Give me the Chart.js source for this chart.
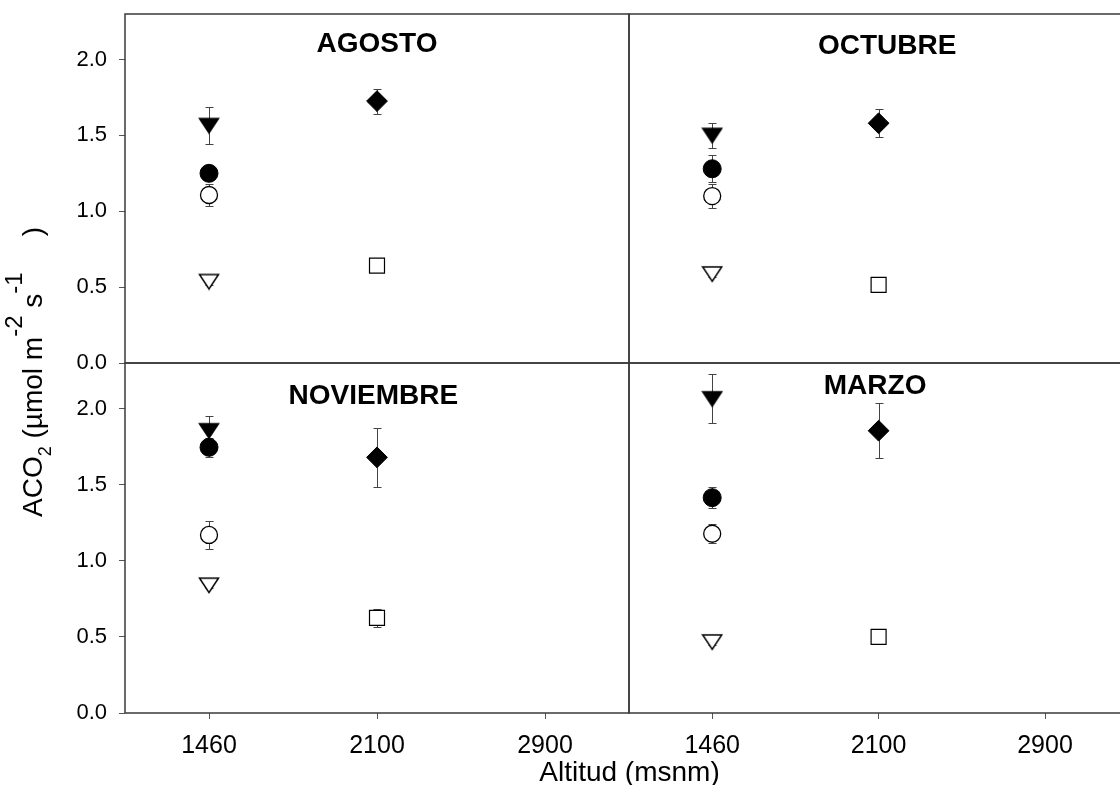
<!DOCTYPE html>
<html>
<head>
<meta charset="utf-8">
<script src="https://cdn.jsdelivr.net/npm/chart.js@4/dist/chart.umd.min.js"></script>
<style>
  html, body { margin: 0; padding: 0; width: 1120px; height: 785px; overflow: hidden; background: #fff; }
  #wrap { position: relative; width: 1120px; height: 785px; overflow: hidden; }
  #wrap canvas { position: absolute; left: 0; top: 0; }
  .axt { position: absolute; font-family: "Liberation Sans", Arial, sans-serif; font-size: 28px; line-height: 28px; white-space: nowrap; color: #000; }
  #ytitle { left: 33px; top: 371.7px; transform: translate(-50%, -50%) rotate(-90deg); }
  #xtitle { left: 629.5px; top: 758px; transform: translateX(-50%); }
  #ytitle sub { font-size: 18px; line-height: 0; vertical-align: baseline; position: relative; top: 9px; }
  #ytitle sup { font-size: 24px; line-height: 0; vertical-align: baseline; position: relative; top: -20px; }
</style>
</head>
<body>
<div id="wrap">
  <canvas id="p0" width="1140" height="785" style="width:1140px;height:785px"></canvas>
  <canvas id="p1" width="1140" height="785" style="width:1140px;height:785px"></canvas>
  <canvas id="p2" width="1140" height="785" style="width:1140px;height:785px"></canvas>
  <canvas id="p3" width="1140" height="785" style="width:1140px;height:785px"></canvas>
  <div id="ytitle" class="axt">ACO<sub>2</sub> (µmol m<sup>-2</sup> s<sup>-1</sup><span style="margin-left:36px">)</span></div>
  <div id="xtitle" class="axt">Altitud (msnm)</div>
</div>
<script>
// ---------------- DATA ----------------
const panelTitles = ['AGOSTO', 'OCTUBRE', 'NOVIEMBRE', 'MARZO'];
const altitudes = ['1460', '2100', '2900'];
const yTickValues = [0, 0.5, 1.0, 1.5, 2.0];
const yMin = 0;
const yMax = 2.3;

// one value per panel: AGOSTO, OCTUBRE, NOVIEMBRE, MARZO
const solidTriangle   = [1.565, 1.50, 1.855, 2.065];
const solidTriangleSE = [0.125, 0.08, 0.095, 0.16];
const solidCircle     = [1.25, 1.28, 1.746, 1.415];
const solidCircleSE   = [0.03, 0.09, 0.062, 0.068];
const openCircle      = [1.107, 1.10, 1.17, 1.178];
const openCircleSE    = [0.07, 0.08, 0.093, 0.062];
const openTriangle    = [0.537, 0.587, 0.84, 0.467];
const openTriangleSE  = [0.02, 0.02, 0.02, 0.02];
const solidDiamond    = [1.726, 1.58, 1.68, 1.855];
const solidDiamondSE  = [0.082, 0.093, 0.195, 0.18];
const openSquare      = [0.642, 0.515, 0.625, 0.50];
const openSquareSE    = [0.02, 0.02, 0.06, 0.02];

// ---------------- STYLE ----------------
Chart.defaults.font.family = '"Liberation Sans", Arial, sans-serif';
Chart.defaults.color = '#000';

function triCanvas(fill) {
  const c = document.createElement('canvas');
  c.width = 22; c.height = 18;
  const g = c.getContext('2d');
  g.beginPath();
  g.moveTo(1.5, 2); g.lineTo(20.5, 2); g.lineTo(11, 16.5);
  g.closePath();
  g.fillStyle = fill; g.fill();
  g.lineWidth = 1.5; g.lineJoin = 'miter'; g.strokeStyle = '#000'; g.stroke();
  return c;
}

const series = [
  { values: solidTriangle, se: solidTriangleSE, alt: altitudes[0],
    style: { pointStyle: triCanvas('#000'), pointRadius: 10 } },
  { values: solidCircle, se: solidCircleSE, alt: altitudes[0],
    style: { pointStyle: 'circle', pointRadius: 9, pointBackgroundColor: '#000', pointBorderColor: '#000', pointBorderWidth: 1 } },
  { values: openCircle, se: openCircleSE, alt: altitudes[0],
    style: { pointStyle: 'circle', pointRadius: 8.5, pointBackgroundColor: '#fff', pointBorderColor: '#000', pointBorderWidth: 1.3 } },
  { values: openTriangle, se: openTriangleSE, alt: altitudes[0],
    style: { pointStyle: triCanvas('#fff'), pointRadius: 10 } },
  { values: solidDiamond, se: solidDiamondSE, alt: altitudes[1],
    style: { pointStyle: 'rectRot', pointRadius: 10.4, pointBackgroundColor: '#000', pointBorderColor: '#000', pointBorderWidth: 1 } },
  { values: openSquare, se: openSquareSE, alt: altitudes[1],
    style: { pointStyle: 'rect', pointRadius: 10.6, pointBackgroundColor: '#fff', pointBorderColor: '#000', pointBorderWidth: 1.2 } }
];

// panel title placement (offset of text centre from panel centre, baseline below panel top)
const titlePlacement = [[0, 38.3], [8.5, 40.3], [-3.7, 41.3], [-3.5, 31.3]];

const CW = 1140;
const splitX = 629, rightX = 1133, topY = 14, splitY = 363, bottomY = 713, CH = 785;

const errorBars = {
  id: 'errorBars',
  beforeDatasetsDraw(chart) {
    const ctx = chart.ctx, ys = chart.scales.y;
    ctx.save();
    ctx.strokeStyle = '#444';
    ctx.lineWidth = 1;
    chart.data.datasets.forEach((ds, di) => {
      const meta = chart.getDatasetMeta(di);
      meta.data.forEach((pt, j) => {
        const v = ds.data[j].y, e = ds.errors[j];
        if (!e) return;
        const x = Math.round(pt.x) + 0.5;
        const y1 = Math.round(ys.getPixelForValue(v + e)) + 0.5;
        const y2 = Math.round(ys.getPixelForValue(v - e)) + 0.5;
        ctx.beginPath();
        ctx.moveTo(x, y1); ctx.lineTo(x, y2);
        ctx.moveTo(x - 4, y1); ctx.lineTo(x + 4, y1);
        ctx.moveTo(x - 4, y2); ctx.lineTo(x + 4, y2);
        ctx.stroke();
      });
    });
    ctx.restore();
  }
};

const panelFrame = {
  id: 'panelFrame',
  beforeDatasetsDraw(chart) {
    const a = chart.chartArea, ctx = chart.ctx;
    ctx.save();
    ctx.strokeStyle = '#3a3a3a';
    ctx.lineWidth = 1.5;
    ctx.strokeRect(a.left, a.top, a.right - a.left, a.bottom - a.top);
    ctx.restore();
  }
};

const panelTitle = {
  id: 'panelTitle',
  afterDraw(chart, args, opts) {
    const a = chart.chartArea, ctx = chart.ctx;
    ctx.save();
    ctx.font = 'bold 28px "Liberation Sans", Arial, sans-serif';
    ctx.fillStyle = '#000';
    ctx.textAlign = 'center';
    ctx.textBaseline = 'alphabetic';
    ctx.fillText(opts.text, (a.left + a.right) / 2 + opts.dx, a.top + opts.dy);
    ctx.restore();
  }
};

for (let p = 0; p < 4; p++) {
  const isLeft = p % 2 === 0;
  const isBottom = p >= 2;
  const datasets = series.map(s => Object.assign({
    data: [{ x: s.alt, y: s.values[p] }],
    errors: [s.se[p]],
    showLine: false,
    clip: false
  }, s.style));

  new Chart(document.getElementById('p' + p), {
    type: 'line',
    data: { labels: altitudes, datasets },
    plugins: [panelFrame, errorBars, panelTitle],
    options: {
      responsive: false,
      animation: false,
      events: [],
      layout: {
        padding: {
          left: isLeft ? 0 : splitX,
          right: isLeft ? CW - splitX : CW - rightX,
          top: isBottom ? splitY : topY,
          bottom: isBottom ? 0 : CH - splitY
        }
      },
      plugins: {
        legend: { display: false },
        tooltip: { enabled: false },
        panelTitle: { text: panelTitles[p], dx: titlePlacement[p][0], dy: titlePlacement[p][1] }
      },
      scales: {
        x: {
          type: 'category',
          labels: altitudes,
          offset: true,
          display: isBottom,
          grid: { display: true, drawOnChartArea: false, drawTicks: true, tickLength: 6, color: '#555', offset: false },
          border: { display: false },
          ticks: { font: { size: 25 }, padding: 12, color: '#000', maxRotation: 0 },
          afterFit: s => {
            s.height = isBottom ? CH - bottomY : 0;
            s.paddingLeft = 0; s.paddingRight = 0;
          }
        },
        y: {
          type: 'linear',
          min: yMin,
          max: yMax,
          display: isLeft,
          afterBuildTicks: s => { s.ticks = yTickValues.map(v => ({ value: v })); },
          grid: { display: true, drawOnChartArea: false, drawTicks: true, tickLength: 6, color: '#555' },
          border: { display: false },
          ticks: { font: { size: 22 }, padding: 12, color: '#000', callback: v => Number(v).toFixed(1) },
          afterFit: s => {
            s.width = isLeft ? 125 : 0;
            s.paddingTop = 0; s.paddingBottom = 0;
          }
        }
      }
    }
  });
}
</script>
</body>
</html>
